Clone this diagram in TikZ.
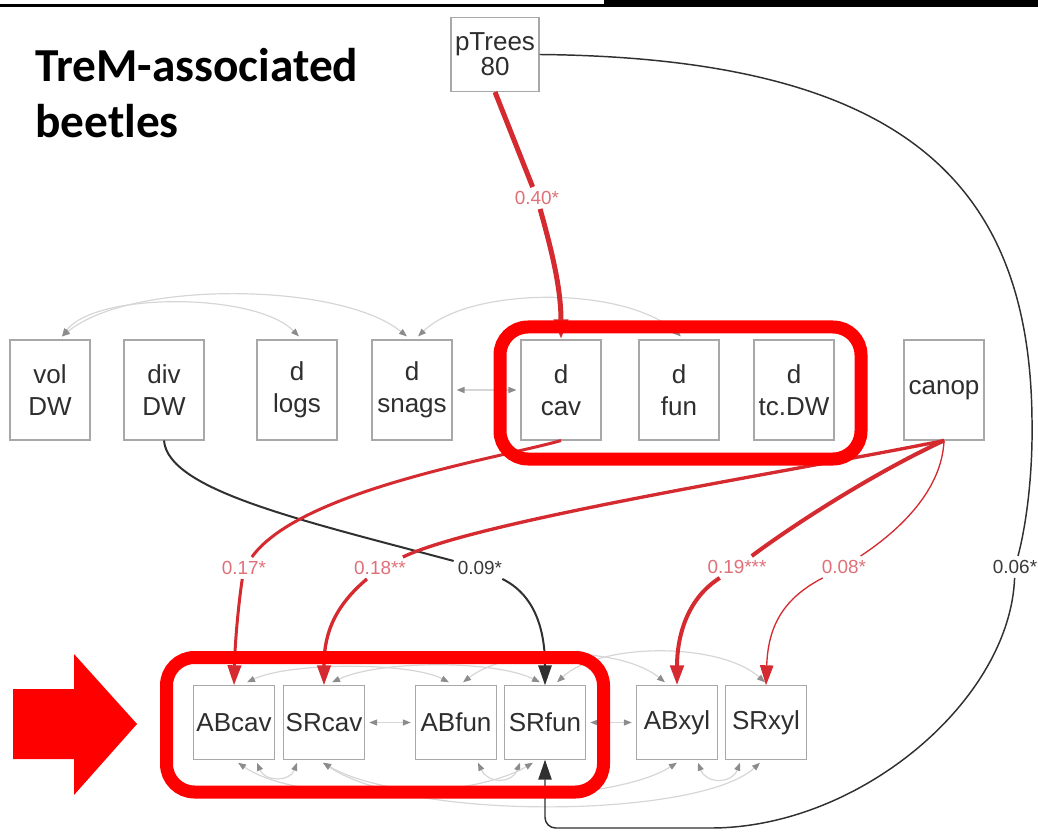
\documentclass[tikz,border=0pt]{standalone}
\usepackage{fontspec}
\setmainfont{Liberation Sans}
\newfontfamily\titlefont{Carlito}
\usetikzlibrary{arrows.meta,calc}
\definecolor{boxline}{HTML}{A8A8A8}
\definecolor{boxtext}{HTML}{2E2E2E}
\definecolor{pathred}{HTML}{D42A30}
\definecolor{labred}{HTML}{E07078}
\definecolor{pathblack}{HTML}{303030}
\definecolor{labblack}{HTML}{3A3A3A}
\definecolor{covline}{HTML}{D6D6D6}
\definecolor{covhead}{HTML}{8C8C8C}
\definecolor{hilite}{HTML}{FF0000}
\tikzset{
  bigtip/.tip={Triangle[length=15pt,width=10pt]},
  covtip/.tip={Triangle[length=6pt,width=4.5pt,color=covhead]},
}
\begin{document}
\begin{tikzpicture}[x=0.75pt,y=-0.75pt,
  var/.style={draw=boxline, line width=0.8pt, text=boxtext, fill=white,
    minimum width=60pt, minimum height=75pt, inner sep=0pt, align=center,
    font=\fontsize{19.5}{24}\selectfont},
  resp/.style={var, minimum width=61pt, minimum height=55pt},
  coef/.style={fill=white, inner sep=3pt, font=\fontsize{14.2}{16}\selectfont},
  redcoef/.style={coef, text=labred},
  blkcoef/.style={coef, text=labblack},
  redpath/.style={draw=pathred},
  blkpath/.style={draw=pathblack},
  cov/.style={draw=covline, line width=0.9pt, covtip-covtip},
  ttl/.style={anchor=base west, inner sep=0pt,
    font=\titlefont\bfseries\fontsize{35.5}{42}\selectfont},
]
\useasboundingbox (0,0) rectangle (1038,837);

% rules along the top edge
\fill[black] (0,4.2) rectangle (1038,7.4);
\fill[black] (604,0) rectangle (1038,4.2);

% title
\node[ttl] (title1) at (35,82) {TreM-associated};
\node[ttl] (title2) at (35,138) {beetles};

% predictors
\node[var, minimum width=66pt, minimum height=55.5pt,
  font=\fontsize{19.5}{17}\selectfont] (pT) at (495,54.5) {pTrees\\80};
\node[var] (volDW)  at (50,390)  {vol\\DW};
\node[var] (divDW)  at (164,390) {div\\DW};
\node[var] (dlogs)  at (297,390) {d\\logs};
\node[var] (dsnags) at (412,390) {d\\snags};
\node[var] (dcav)   at (561,390) {d\\cav};
\node[var] (dfun)   at (679,390) {d\\fun};
\node[var] (dtcDW)  at (794,390) {d\\tc.DW};
\node[var] (canop)  at (944,390) {canop};

% responses
\node[resp] (ABcav) at (234,722.5) {ABcav};
\node[resp] (SRcav) at (324,722.5) {SRcav};
\node[resp] (ABfun) at (456,722.5) {ABfun};
\node[resp] (SRfun) at (545,722.5) {SRfun};
\node[resp] (ABxyl) at (677,722.5) {ABxyl};
\node[resp] (SRxyl) at (766,722.5) {SRxyl};

% path coefficients
\node[redcoef] (l40) at (537,198) {0.40*};
\node[redcoef] (l17) at (244,568) {0.17*};
\node[redcoef] (l18) at (380,568) {0.18**};
\node[blkcoef] (l09) at (480,568) {0.09*};
\node[redcoef] (l19) at (737,567) {0.19***};
\node[redcoef] (l08) at (844,567) {0.08*};
\node[blkcoef] (l06) at (1015,567) {0.06*};

% covariances among predictors
\draw[cov] ($(volDW.north)+(12,-3)$) .. controls (95,292) and (255,292) .. ($(dlogs.north)+(2,-3)$);
\draw[cov] ($(volDW.north)+(12,-3)$) .. controls (130,280) and (340,282) .. ($(dsnags.north)+(-5,-3)$);
\draw[cov] ($(dsnags.north)+(6,-3)$) .. controls (470,286) and (625,286) .. ($(dfun.north)+(2,-3)$);
\draw[cov, shorten <=3pt, shorten >=3pt] (dsnags.east) -- (dcav.west);

% covariances among responses
\draw[cov] ($(ABcav.north)+(13,-3)$) .. controls (290,662) and (410,662) .. ($(ABfun.north)+(-7,-3)$);
\draw[cov] ($(SRcav.north)+(8,-3)$) .. controls (380,660) and (495,660) .. ($(SRfun.north)+(-5,-3)$);
\draw[cov] ($(ABfun.north)+(7,-3)$) .. controls (510,646) and (620,646) .. ($(ABxyl.north)+(-12,-3)$);
\draw[cov] ($(SRfun.north)+(12,-3)$) .. controls (600,642) and (720,642) .. ($(SRxyl.north)+(-1,-3)$);
\draw[cov, shorten <=3pt, shorten >=3pt] (SRcav.east) -- (ABfun.west);
\draw[cov, shorten <=3pt, shorten >=3pt] (SRfun.east) -- (ABxyl.west);
\draw[cov] ($(ABcav.south)+(23,3)$) .. controls (265,782) and (290,782) .. ($(SRcav.south)+(-27,3)$);
\draw[cov] ($(ABfun.south)+(22,3)$) .. controls (488,784) and (512,784) .. ($(SRfun.south)+(-25,3)$);
\draw[cov] ($(ABxyl.south)+(21,3)$) .. controls (706,784) and (732,784) .. ($(SRxyl.south)+(-26,3)$);
\draw[cov] ($(ABcav.south)+(4,3)$) .. controls (300,805) and (470,800) .. ($(SRfun.south)+(-12,3)$);
\draw[cov] ($(SRcav.south)+(-1,3)$) .. controls (400,808) and (610,805) .. ($(ABxyl.south)+(0,3)$);
\draw[cov] ($(SRcav.south)+(-1,3)$) .. controls (410,822) and (700,818) .. ($(SRxyl.south)+(-6,3)$);

% pTrees80 -> d cav
\draw[redpath, line width=3.75pt] (pT.south) -- (l40);
\draw[redpath, line width=3.75pt, -bigtip] (l40) .. controls (553,255) and (561,290) .. (dcav.north);

% pTrees80 -> SRfun
\draw[blkpath, line width=1.1pt] (pT.east) .. controls (900,58) and (1030,180) .. (1032,420)
  .. controls (1033,480) and (1025,530) .. (l06);
\draw[blkpath, line width=1.1pt, -bigtip, rounded corners=8pt]
  (l06) .. controls (1010,700) and (860,828) .. (700,828) -- (545,828) -- (SRfun.south);

% div DW -> SRfun
\draw[blkpath, line width=1.5pt] (divDW.south) .. controls (168,490) and (300,520) .. (l09);
\draw[blkpath, line width=1.5pt, -bigtip] (l09) .. controls (535,595) and (545,630) .. (SRfun.north);

% d cav -> ABcav
\draw[redpath, line width=2.25pt] (dcav.south) .. controls (500,458) and (300,490) .. (l17);
\draw[redpath, line width=2.25pt, -bigtip] (l17) .. controls (239,600) and (235,640) .. (ABcav.north);

% canop -> SRcav
\draw[redpath, line width=2.5pt] (canop.south) .. controls (800,470) and (480,520) .. (l18);
\draw[redpath, line width=2.5pt, -bigtip] (l18) .. controls (330,610) and (324,640) .. (SRcav.north);

% canop -> ABxyl
\draw[redpath, line width=3pt] (canop.south) .. controls (880,470) and (800,520) .. (l19);
\draw[redpath, line width=3pt, -bigtip] (l19) .. controls (685,600) and (677,640) .. (ABxyl.north);

% canop -> SRxyl
\draw[redpath, line width=1pt] (canop.south) .. controls (942,490) and (900,530) .. (l08);
\draw[redpath, line width=1pt, -bigtip] (l08) .. controls (780,600) and (768,630) .. (SRxyl.north);

% highlight frames and pointer
\draw[hilite, line width=9.75pt, rounded corners=21pt] (500,327) rectangle (861,459);
\draw[hilite, line width=9.75pt, rounded corners=21pt] (166.5,657.5) rectangle (603.5,792);
\fill[hilite] (13,689) -- (74,689) -- (74,654) -- (137,724) -- (74,795) -- (74,759) -- (13,759) -- cycle;
\end{tikzpicture}
\end{document}
